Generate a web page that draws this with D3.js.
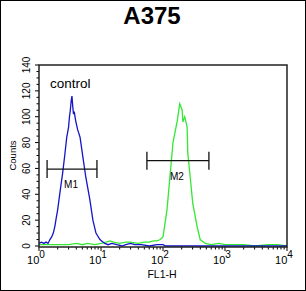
<!DOCTYPE html>
<html>
<head>
<meta charset="utf-8">
<script src="https://cdn.jsdelivr.net/npm/d3@7"></script>
<style>
  body { margin: 0; background: #fff; }
  text { font-family: "Liberation Sans", Arial, sans-serif; }
</style>
</head>
<body>
<div id="chart"></div>
<script>
// histogram traces (FL1-H value, counts)
const controlFL = [1.0, 1.1, 1.2, 1.3, 1.4, 1.5, 1.6, 1.7, 1.8, 1.9, 2.0, 2.2, 2.4, 2.6, 2.8, 3.0, 3.1, 3.2, 3.3, 3.4, 3.5, 3.6, 3.7, 3.9, 4.2, 4.6, 5.1, 5.7, 6.6, 7.4, 8.3, 9.6, 11.5, 13, 15, 18, 22, 25, 30, 35, 45, 60, 80, 100, 110, 200, 1000, 10000];
const controlCounts = [2, 3, 2, 3, 2, 5, 7, 10, 15, 22, 28, 43, 56, 70, 84, 92, 100, 105, 112, 116, 108, 102, 104, 97, 90, 84, 69, 53, 36, 20, 10, 5, 2, 1, 2, 1, 0, 1, 2, 1, 1, 0, 1, 1, 0, 0, 0, 0];

const sampleFL = [1, 1.5, 2, 3, 4, 5, 6, 8, 10, 12, 14, 16, 20, 25, 30, 40, 50, 60, 70, 80, 90, 100, 116, 129, 145, 170, 186, 204, 209, 224, 245, 251, 275, 302, 355, 398, 479, 600, 800, 1000, 1500, 2000, 3000, 5000, 7000, 10000];
const sampleCounts = [1, 1, 1, 1, 2, 1, 2, 1, 2, 3, 4, 3, 2, 3, 3, 2, 3, 3, 4, 4, 5, 7, 28, 53, 80, 97, 110, 105, 96, 100, 92, 72, 53, 33, 15, 5, 2, 1, 2, 1, 1, 1, 0, 1, 1, 0];

const markerNames = ["M1", "M2"];
const markerFrom = [1.35, 55];
const markerTo = [8.6, 550];
const markerCount = [59.5, 66];

const yTicks = [0, 20, 40, 60, 80, 100, 120, 140];
const xExponents = [0, 1, 2, 3, 4];

const W = 306, H = 291;
const plotL = 39, plotR = 287, plotT = 65, plotB = 246;

const svg = d3.select("#chart").append("svg")
    .attr("width", W)
    .attr("height", H);

svg.append("rect")
    .attr("x", 0.5).attr("y", 0.5)
    .attr("width", W - 1).attr("height", H - 1)
    .attr("fill", "#fff")
    .attr("stroke", "#000");

const x = d3.scaleLog().domain([1, 10000]).range([plotL, plotR]);
const y = d3.scaleLinear().domain([0, 140]).range([plotB, plotT]);

// title
svg.append("text")
    .attr("x", 152).attr("y", 24)
    .attr("text-anchor", "middle")
    .style("font-size", "24px")
    .style("font-weight", "bold")
    .text("A375");

// y ticks, minor every 5
const yMinor = d3.range(0, 141, 5);
svg.selectAll(".ytick").data(yMinor).enter().append("line")
    .attr("x1", d => d % 20 === 0 ? plotL - 4 : plotL - 2.5)
    .attr("x2", plotL)
    .attr("y1", d => y(d)).attr("y2", d => y(d))
    .attr("stroke", "#000").attr("stroke-width", 1);

svg.selectAll(".ylab").data(yTicks).enter().append("text")
    .attr("transform", d => `translate(30,${y(d)}) rotate(-90)`)
    .attr("text-anchor", "middle")
    .style("font-size", "10px")
    .text(d => d);

svg.append("text")
    .attr("transform", `translate(16,${(plotT + plotB) / 2}) rotate(-90)`)
    .attr("text-anchor", "middle")
    .style("font-size", "9.5px")
    .text("Counts");

// x ticks, log minors
const xMinor = [];
for (let e = 0; e < 4; e++) for (let m = 1; m < 10; m++) xMinor.push(m * Math.pow(10, e));
xMinor.push(10000);
svg.selectAll(".xtick").data(xMinor).enter().append("line")
    .attr("x1", d => x(d)).attr("x2", d => x(d))
    .attr("y1", plotB + 1)
    .attr("y2", d => Math.log10(d) % 1 === 0 ? plotB + 5 : plotB + 3.5)
    .attr("stroke", "#000").attr("stroke-width", 1);

const xl = svg.selectAll(".xlab").data(xExponents).enter().append("text")
    .attr("x", d => x(Math.pow(10, d)) - 3)
    .attr("y", 264)
    .attr("text-anchor", "middle")
    .style("font-size", "11px");
xl.append("tspan").text("10");
xl.append("tspan").attr("dy", -6).style("font-size", "10px").text(d => d);

svg.append("text")
    .attr("x", 162).attr("y", 278)
    .attr("text-anchor", "middle")
    .style("font-size", "10.5px")
    .text("FL1-H");

// histograms
const line = d3.line()
    .x(d => x(d[0]))
    .y(d => y(d[1]));

svg.append("path")
    .datum(d3.zip(sampleFL, sampleCounts))
    .attr("d", line)
    .attr("fill", "none")
    .attr("stroke", "#33e833")
    .attr("stroke-width", 1.3);

svg.append("path")
    .datum(d3.zip(controlFL, controlCounts))
    .attr("d", line)
    .attr("fill", "none")
    .attr("stroke", "#1414c8")
    .attr("stroke-width", 1.3);

// frame
svg.append("rect")
    .attr("x", plotL).attr("y", plotT)
    .attr("width", plotR - plotL).attr("height", plotB + 1 - plotT)
    .attr("fill", "none")
    .attr("stroke", "#222")
    .attr("stroke-width", 1.5);

// markers
markerNames.forEach((name, i) => {
    const x1 = x(markerFrom[i]), x2 = x(markerTo[i]), yy = y(markerCount[i]);
    const g = svg.append("g").attr("stroke", "#111").attr("stroke-width", 1.3);
    g.append("line").attr("x1", x1).attr("x2", x2).attr("y1", yy).attr("y2", yy);
    g.append("line").attr("x1", x1).attr("x2", x1).attr("y1", yy - 9).attr("y2", yy + 9);
    g.append("line").attr("x1", x2).attr("x2", x2).attr("y1", yy - 9).attr("y2", yy + 9);
    svg.append("text")
        .attr("x", (x1 + x2) / 2 - 1)
        .attr("y", yy + 19)
        .attr("text-anchor", "middle")
        .style("font-size", "10px")
        .text(name);
});

svg.append("text")
    .attr("x", 50).attr("y", 88)
    .style("font-size", "13.5px")
    .text("control");
</script>
</body>
</html>
